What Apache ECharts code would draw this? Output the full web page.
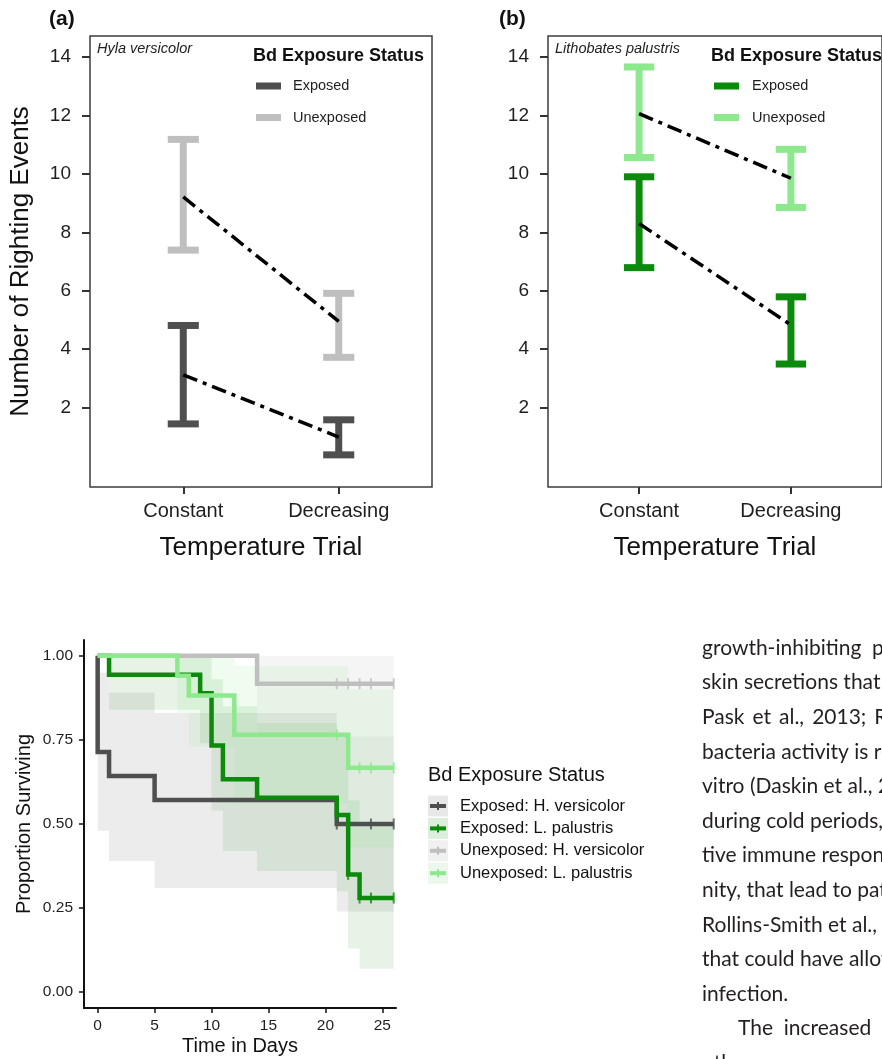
<!DOCTYPE html>
<html>
<head>
<meta charset="utf-8">
<style>
  html, body { margin: 0; padding: 0; background: #fff; }
  #chart { width: 882px; height: 1059px; }
</style>
<script src="https://cdn.jsdelivr.net/npm/echarts@6/dist/echarts.min.js"></script>
</head>
<body>
<div id="chart"></div>
<script>
// ---- panels (a) and (b): righting events ----
var trials = ['Constant', 'Decreasing'];
var trialPos = [1, 2];
var countTicks = [2, 4, 6, 8, 10, 12, 14];

var hylaExpMean = [3.12, 0.99];
var hylaExpLo = [1.44, 0.38];
var hylaExpHi = [4.81, 1.58];
var hylaUnexpMean = [9.21, 4.95];
var hylaUnexpLo = [7.39, 3.72];
var hylaUnexpHi = [11.18, 5.91];

var lithoExpMean = [8.3, 4.83];
var lithoExpLo = [6.79, 3.49];
var lithoExpHi = [9.9, 5.79];
var lithoUnexpMean = [12.06, 9.85];
var lithoUnexpLo = [10.56, 8.85];
var lithoUnexpHi = [13.66, 10.84];

// ---- survival ----
var timeTicks = [0, 5, 10, 15, 20, 25];
var survTicks = [0, 0.25, 0.5, 0.75, 1];
var survNames = ['Exposed: H. versicolor', 'Exposed: L. palustris', 'Unexposed: H. versicolor', 'Unexposed: L. palustris'];

var expHTime = [0, 0, 1, 5, 21, 26];
var expHSurv = [1, 0.714, 0.643, 0.571, 0.5, 0.5];
var expLTime = [0, 1, 9, 10, 11, 14, 21, 22, 23, 26];
var expLSurv = [1, 0.944, 0.889, 0.733, 0.633, 0.578, 0.527, 0.35, 0.28, 0.28];
var unexpHTime = [0, 14, 26];
var unexpHSurv = [1, 0.917, 0.917];
var unexpLTime = [0, 7, 8, 12, 22, 26];
var unexpLSurv = [1, 0.941, 0.882, 0.765, 0.667, 0.667];

// confidence bands: step start times, ending at last day
var lastDay = 26;
var expHBandT = [0, 1, 5, 21];
var expHBandLo = [0.48, 0.39, 0.31, 0.24];
var expHBandHi = [0.95, 0.89, 0.83, 0.76];
var expLBandT = [1, 9, 10, 11, 14, 21, 22, 23];
var expLBandLo = [0.84, 0.74, 0.54, 0.42, 0.36, 0.30, 0.13, 0.07];
var expLBandHi = [1.0, 1.0, 0.93, 0.85, 0.80, 0.76, 0.57, 0.50];
var unexpHBandT = [14];
var unexpHBandLo = [0.76];
var unexpHBandHi = [1.0];
var unexpLBandT = [7, 8, 12, 22];
var unexpLBandLo = [0.83, 0.73, 0.56, 0.43];
var unexpLBandHi = [1.0, 1.0, 0.97, 0.90];

// censor marks
var expHCensT = [21, 24, 26];
var expHCensS = [0.5, 0.5, 0.5];
var expLCensT = [21, 22, 23, 24, 26];
var expLCensS = [0.527, 0.35, 0.28, 0.28, 0.28];
var unexpHCensT = [21, 22, 23, 24, 26];
var unexpHCensS = [0.917, 0.917, 0.917, 0.917, 0.917];
var unexpLCensT = [21, 23, 24, 26];
var unexpLCensS = [0.765, 0.667, 0.667, 0.667];

var paraLines = [
  'growth-inhibiting  peptides in',
  'skin secretions that protect',
  'Pask\u2009 et\u2009 al.,\u2009 2013;\u2009 Rollins',
  'bacteria activity is reduced',
  'vitro (Daskin et al., 2014)',
  'during cold periods, such',
  'tive immune responses',
  'nity, that lead to pathogen',
  'Rollins-Smith et al., 2011)',
  'that could have allowed',
  'infection.',
  'The  increased',
  'other'
];

var FONT = '"Liberation Sans", Arial, sans-serif';
var cDarkGray = '#4f4f4f', cLightGray = '#bfbfbf', cGreen = '#0b8a0b', cLightGreen = '#8ee88e';

function zip2(xs, ys) { return xs.map(function (x, i) { return [x, ys[i]]; }); }
function bars(lo, hi) { return trialPos.map(function (x, i) { return [x, lo[i], hi[i]]; }); }
function bandRows(t, lo, hi) {
  return t.map(function (t0, i) { return [t0, i + 1 < t.length ? t[i + 1] : lastDay, lo[i], hi[i]]; });
}

function errorBarSeries(idx, data, color) {
  return {
    type: 'custom', xAxisIndex: idx, yAxisIndex: idx, data: data, z: 2,
    renderItem: function (params, api) {
      var top = api.coord([api.value(0), api.value(2)]);
      var bot = api.coord([api.value(0), api.value(1)]);
      var half = api.size([0.2, 0])[0] / 2;
      var st = { stroke: color, lineWidth: 7, lineCap: 'butt' };
      return { type: 'group', children: [
        { type: 'line', shape: { x1: top[0], y1: top[1], x2: bot[0], y2: bot[1] }, style: st },
        { type: 'line', shape: { x1: top[0] - half, y1: top[1], x2: top[0] + half, y2: top[1] }, style: st },
        { type: 'line', shape: { x1: bot[0] - half, y1: bot[1], x2: bot[0] + half, y2: bot[1] }, style: st }
      ] };
    }
  };
}
function meanLine(idx, means) {
  return {
    type: 'line', xAxisIndex: idx, yAxisIndex: idx, data: zip2(trialPos, means), z: 5,
    symbol: 'none', lineStyle: { color: '#000', width: 3.5, type: [15, 6, 4, 6] }
  };
}
function bandSeries(rows, fill) {
  return {
    type: 'custom', xAxisIndex: 2, yAxisIndex: 2, data: rows, z: 1,
    renderItem: function (params, api) {
      var a = api.coord([api.value(0), api.value(3)]);
      var b = api.coord([api.value(1), api.value(2)]);
      return { type: 'rect', shape: { x: a[0], y: a[1], width: b[0] - a[0], height: b[1] - a[1] }, style: { fill: fill } };
    }
  };
}
function kmLine(t, s, color) {
  return {
    type: 'line', xAxisIndex: 2, yAxisIndex: 2, data: zip2(t, s), step: 'end', z: 3,
    symbol: 'none', lineStyle: { color: color, width: 4.5, join: 'miter' }
  };
}
function censor(t, s, color) {
  return {
    type: 'scatter', xAxisIndex: 2, yAxisIndex: 2, data: zip2(t, s), z: 4,
    symbol: 'rect', symbolSize: [2, 11], itemStyle: { color: color }
  };
}

function panelAxisX(idx) {
  return {
    type: 'value', gridIndex: idx, min: 0.4, max: 2.6, splitLine: { show: false },
    axisLine: { show: false, onZero: false },
    axisTick: { customValues: trialPos, length: 7, lineStyle: { color: '#333', width: 2 } },
    axisLabel: { customValues: trialPos, formatter: function (v) { return trials[Math.round(v) - 1]; },
      fontSize: 20, color: '#1e1e1e', margin: 14, fontFamily: FONT },
    name: 'Temperature Trial', nameLocation: 'middle', nameGap: 48, nameMoveOverlap: false,
    nameTextStyle: { fontSize: 26, color: '#111', fontFamily: FONT }
  };
}
function panelAxisY(idx, withName) {
  var ax = {
    type: 'value', gridIndex: idx, min: -0.72, max: 14.72, splitLine: { show: false },
    axisLine: { show: false, onZero: false },
    axisTick: { customValues: countTicks, length: 8, lineStyle: { color: '#333', width: 2 } },
    axisLabel: { customValues: countTicks, fontSize: 19, color: '#1e1e1e', margin: 19, fontFamily: FONT }
  };
  if (withName) {
    ax.name = 'Number of Righting Events';
    ax.nameLocation = 'middle';
    ax.nameGap = 56;
    ax.nameRotate = 90;
    ax.nameMoveOverlap = false;
    ax.nameTextStyle = { fontSize: 26, color: '#111', fontFamily: FONT };
  }
  return ax;
}

var graphics = [
  { type: 'text', style: { text: '(a)', x: 49, y: 19, font: 'bold 21px ' + FONT, fill: '#111', textVerticalAlign: 'middle' } },
  { type: 'text', style: { text: '(b)', x: 499, y: 19, font: 'bold 21px ' + FONT, fill: '#111', textVerticalAlign: 'middle' } },
  { type: 'text', style: { text: 'Hyla versicolor', x: 97, y: 49, font: 'italic 14.5px ' + FONT, fill: '#1e1e1e', textVerticalAlign: 'middle' } },
  { type: 'text', style: { text: 'Lithobates palustris', x: 555, y: 49, font: 'italic 14.5px ' + FONT, fill: '#1e1e1e', textVerticalAlign: 'middle' } }
];
[[253, 256, 293, cDarkGray, cLightGray], [711, 714, 752, cGreen, cLightGreen]].forEach(function (L) {
  graphics.push({ type: 'text', style: { text: 'Bd Exposure Status', x: L[0], y: 56, font: 'bold 18px ' + FONT, fill: '#111', textVerticalAlign: 'middle' } });
  ['Exposed', 'Unexposed'].forEach(function (nm, i) {
    var cy = 86 + i * 31.5;
    graphics.push({ type: 'rect', shape: { x: L[1], y: cy - 3.5, width: 25, height: 7 }, style: { fill: i === 0 ? L[3] : L[4] } });
    graphics.push({ type: 'text', style: { text: nm, x: L[2], y: cy, font: '14.5px ' + FONT, fill: '#1e1e1e', textVerticalAlign: 'middle' } });
  });
});
// survival legend
var survColors = [cDarkGray, cGreen, cLightGray, cLightGreen];
var survKeyBg = ['#e8e8e8', '#dcefdc', '#f0f0f0', '#ebf8eb'];
graphics.push({ type: 'text', style: { text: 'Bd Exposure Status', x: 428, y: 775, font: '20px ' + FONT, fill: '#111', textVerticalAlign: 'middle' } });
survNames.forEach(function (nm, i) {
  var cy = 806 + i * 22.4;
  graphics.push({ type: 'rect', shape: { x: 428, y: cy - 10.5, width: 20, height: 21 }, style: { fill: survKeyBg[i] } });
  graphics.push({ type: 'line', shape: { x1: 430, y1: cy, x2: 446, y2: cy }, style: { stroke: survColors[i], lineWidth: 4 } });
  graphics.push({ type: 'rect', shape: { x: 437, y: cy - 4, width: 2, height: 8 }, style: { fill: survColors[i] } });
  graphics.push({ type: 'text', style: { text: nm, x: 460, y: cy, font: '16.5px ' + FONT, fill: '#111', textVerticalAlign: 'middle' } });
});
// body text beside the figure
paraLines.forEach(function (ln, i) {
  graphics.push({ type: 'text', style: { text: ln, x: i === 11 ? 738 : 702, y: 648 + i * 34.6,
    font: '21px Lato, sans-serif', fill: '#231f20', textVerticalAlign: 'middle' } });
});

var option = {
  animation: false,
  backgroundColor: '#fff',
  textStyle: { fontFamily: FONT },
  grid: [
    { left: 90, top: 36, width: 342, height: 451, show: true, borderColor: '#3c3c3c', borderWidth: 1.5 },
    { left: 548, top: 36, width: 342, height: 451, show: true, borderColor: '#3c3c3c', borderWidth: 1.5 },
    { left: 84, top: 640, width: 312, height: 368 }
  ],
  xAxis: [
    panelAxisX(0),
    panelAxisX(1),
    {
      type: 'value', gridIndex: 2, min: -1.2, max: 26.2, splitLine: { show: false },
      axisLine: { onZero: false, lineStyle: { color: '#111', width: 2 } },
      axisTick: { customValues: timeTicks, length: 5, lineStyle: { color: '#111', width: 1.5 } },
      axisLabel: { customValues: timeTicks, fontSize: 15.5, color: '#1e1e1e', margin: 10, fontFamily: FONT },
      name: 'Time in Days', nameLocation: 'middle', nameGap: 28, nameMoveOverlap: false,
      nameTextStyle: { fontSize: 20, color: '#111', fontFamily: FONT }
    }
  ],
  yAxis: [
    panelAxisY(0, true),
    panelAxisY(1, false),
    {
      type: 'value', gridIndex: 2, min: -0.047, max: 1.047, splitLine: { show: false },
      axisLine: { show: true, onZero: false, lineStyle: { color: '#111', width: 2 } },
      axisTick: { show: true, customValues: survTicks, length: 5, lineStyle: { color: '#111', width: 1.5 } },
      axisLabel: { customValues: survTicks, formatter: function (v) { return v.toFixed(2); },
        fontSize: 15.5, color: '#1e1e1e', margin: 11, fontFamily: FONT },
      name: 'Proportion Surviving', nameLocation: 'middle', nameGap: 50, nameRotate: 90, nameMoveOverlap: false,
      nameTextStyle: { fontSize: 20, color: '#111', fontFamily: FONT }
    }
  ],
  graphic: graphics,
  series: [
    errorBarSeries(0, bars(hylaExpLo, hylaExpHi), cDarkGray),
    errorBarSeries(0, bars(hylaUnexpLo, hylaUnexpHi), cLightGray),
    meanLine(0, hylaExpMean),
    meanLine(0, hylaUnexpMean),
    errorBarSeries(1, bars(lithoExpLo, lithoExpHi), cGreen),
    errorBarSeries(1, bars(lithoUnexpLo, lithoUnexpHi), cLightGreen),
    meanLine(1, lithoExpMean),
    meanLine(1, lithoUnexpMean),

    bandSeries(bandRows(expHBandT, expHBandLo, expHBandHi), 'rgba(79,79,79,0.11)'),
    bandSeries(bandRows(expLBandT, expLBandLo, expLBandHi), 'rgba(11,138,11,0.1)'),
    bandSeries(bandRows(unexpHBandT, unexpHBandLo, unexpHBandHi), 'rgba(191,191,191,0.16)'),
    bandSeries(bandRows(unexpLBandT, unexpLBandLo, unexpLBandHi), 'rgba(142,232,142,0.14)'),
    kmLine(expHTime, expHSurv, cDarkGray),
    kmLine(expLTime, expLSurv, cGreen),
    kmLine(unexpHTime, unexpHSurv, cLightGray),
    kmLine(unexpLTime, unexpLSurv, cLightGreen),
    censor(expHCensT, expHCensS, cDarkGray),
    censor(expLCensT, expLCensS, cGreen),
    censor(unexpHCensT, unexpHCensS, cLightGray),
    censor(unexpLCensT, unexpLCensS, cLightGreen)
  ]
};

var chart = echarts.init(document.getElementById('chart'));
chart.setOption(option);
</script>
</body>
</html>
